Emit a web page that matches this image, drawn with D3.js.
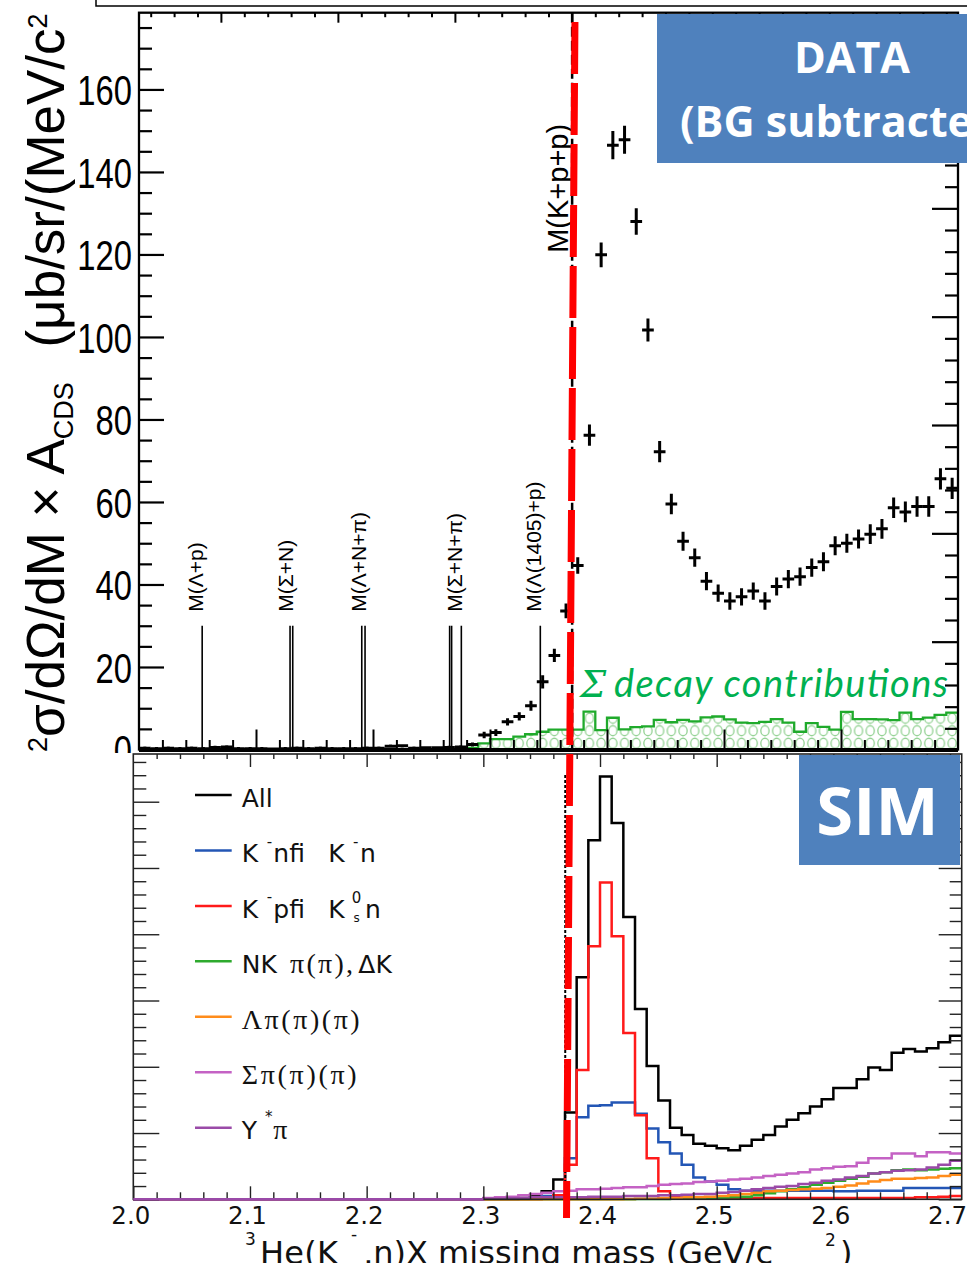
<!DOCTYPE html>
<html><head><meta charset="utf-8">
<script src="https://cdn.jsdelivr.net/npm/d3@7"></script>
<style>body{margin:0;background:#fff}svg{display:block}</style>
</head><body>
<svg id="c" width="967" height="1263"></svg>
<script>
// ===================== DATA =====================
// Top panel: measured spectrum (BG subtracted), 10 MeV bins
const dataBinWidth = 0.01;
const dataFirstCenter = 2.005;
const dataValues = [0.3,0.2,0.3,0.2,0.3,0.2,0.5,0.6,0.2,0.2,0.2,0.1,0.2,0.3,0.2,0.3,0.2,0.2,0.2,0.3,0.3,0.8,0.9,0.3,0.4,0.4,0.5,0.6,1.2,
  3.5,4.1,6.7,8.0,10.6,16.4,22.8,33.6,44.6,76.2,119.9,146.5,147.8,128.0,101.7,72.2,59.5,50.5,46.5,40.8,37.9,36.0,37.0,38.4,36.0,39.5,41.3,41.9,44.1,45.5,49.4,50.0,51.0,52.2,53.5,58.6,57.6,58.9,58.9,65.6,63.3];
const dataErrors = [0.4,0.4,0.4,0.4,0.4,0.4,0.4,0.4,0.4,0.4,0.4,0.4,0.4,0.4,0.4,0.4,0.4,0.4,0.4,0.4,0.4,0.4,0.4,0.4,0.4,0.4,0.4,0.4,0.5,
  0.8,0.8,0.9,1.0,1.2,1.6,1.6,1.8,2.0,2.6,3.0,3.4,3.4,3.2,2.8,2.6,2.5,2.3,2.2,2.2,2.1,2.1,2.1,2.1,2.1,2.2,2.2,2.2,2.2,2.3,2.3,2.3,2.3,2.4,2.4,2.5,2.5,2.5,2.5,2.6,2.6];
// Sigma decay contributions histogram (low edges from 2.28)
const sigmaFirstEdge = 2.28;
const sigmaValues = [0.4,1.5,2.5,2.5,3.1,3.7,4.3,4.8,4.8,4.8, 9.2,4.7,7.7,4.9,5.4,5.6,7.2,6.6,7.2,6.8,
  7.8,8.0,7.3,6.5,6.4,6.7,7.35,6.5,4.3,6.4,5.5,4.8, 9.1,7.35,7.35,7.3,7.1,8.95,7.35,7.75,8.4,8.95];
// Thresholds (GeV/c^2)
const thresholds = [
  {label:"M(Λ+p)", masses:[2.054]},
  {label:"M(Σ+N)", masses:[2.1291,2.1314]},
  {label:"M(Λ+N+π)", masses:[2.1904,2.1932]},
  {label:"M(Σ+N+π)", masses:[2.2655,2.2672,2.2755]},
  {label:"M(Λ(1405)+p)", masses:[2.343]}
];
const kppThreshold = 2.3702;
const thresholdLineHeight = 30;
const yTickLabels = [0,20,40,60,80,100,120,140,160];

// Bottom panel: simulation histograms, low edges from 2.30, 10 MeV bins
const simFirstEdge = 2.30;
const simAll   = [0.01,0.01,0.02,0.02,0.05,0.12,0.30,1.31,3.35,5.42,6.38,5.68,4.26,2.87,2.01,1.49,1.08,0.97,0.84,0.81,0.77,0.74,0.81,0.90,0.97,1.10,1.20,1.30,1.40,1.51,1.68,1.68,1.81,1.99,1.95,2.21,2.27,2.23,2.28,2.37,2.47];
const simKn    = [0,0,0,0.01,0.03,0.05,0.06,0.62,1.24,1.41,1.42,1.46,1.46,1.29,1.07,0.86,0.69,0.52,0.33,0.27,0.22,0.15,0.13,0.13,0.13,0.13,0.13,0.13,0.13,0.13,0.12,0.12,0.13,0.13,0.13,0.13,0.17,0.17,0.17,0.17,0.17];
const simKp    = [0,0,0,0,0,0.02,0.06,0.52,1.95,3.82,4.78,3.97,2.51,1.27,0.62,0.12,0.05,0.03,0.02,0.02,0.02,0.02,0.02,0.02,0.02,0.02,0.02,0.02,0.02,0.02,0.02,0.02,0.02,0.02,0.02,0.02,0.02,0.03,0.03,0.04,0.05];
const simNK    = [0,0,0,0,0,0,0,0,0,0,0,0,0,0.005,0.005,0.005,0.01,0.01,0.01,0.015,0.02,0.03,0.04,0.06,0.09,0.12,0.15,0.18,0.22,0.25,0.28,0.31,0.34,0.39,0.41,0.44,0.45,0.44,0.45,0.46,0.47];
const simLpi   = [0,0,0,0,0,0,0,0,0,0,0,0,0.005,0.01,0.01,0.02,0.02,0.03,0.03,0.04,0.05,0.06,0.08,0.10,0.12,0.13,0.14,0.15,0.16,0.17,0.19,0.21,0.24,0.27,0.29,0.31,0.31,0.32,0.33,0.35,0.37];
const simSpi   = [0.02,0.03,0.04,0.06,0.08,0.10,0.12,0.13,0.15,0.15,0.16,0.17,0.18,0.18,0.20,0.22,0.23,0.24,0.26,0.27,0.28,0.30,0.31,0.33,0.35,0.37,0.39,0.41,0.45,0.47,0.49,0.50,0.55,0.62,0.62,0.69,0.69,0.65,0.71,0.71,0.69];
const simYpi   = [0.01,0.01,0.02,0.02,0.03,0.03,0.03,0.03,0.03,0.04,0.04,0.04,0.05,0.05,0.05,0.06,0.06,0.07,0.08,0.08,0.10,0.11,0.13,0.15,0.17,0.19,0.20,0.23,0.25,0.28,0.30,0.33,0.35,0.39,0.41,0.43,0.44,0.45,0.48,0.52,0.58];
const simColors = ["#000000","#2356b5","#ff1a1a","#2eaa2e","#ff8c1a","#c462c4","#9a4aa8"];
const xTickLabels = [2.0,2.1,2.2,2.3,2.4,2.5,2.6,2.7];

// ===================== DRAW =====================
const FH = "'Liberation Sans', Arial, Helvetica, sans-serif";
const FB = "'DejaVu Sans', Verdana, sans-serif";
const FS = "'Liberation Serif', 'Times New Roman', serif";
const svg = d3.select("#c");
svg.append("rect").attr("width",967).attr("height",1263).attr("fill","#fff");

const xT = d3.scaleLinear().domain([2.0,2.7]).range([139,958]);
const yT = d3.scaleLinear().domain([0,178.6]).range([749.5,12.7]);
const yTR = d3.scaleLinear().domain([0,6.806]).range([750,12.7]);
const xB = d3.scaleLinear().domain([2.0,2.71]).range([133.3,961.7]);
const yB = d3.scaleLinear().domain([0,6.72]).range([1199.3,754]);

const near = (v,s)=>Math.abs(v/s-Math.round(v/s))<1e-6;

// pattern
const defs = svg.append("defs");
const pat = defs.append("pattern").attr("id","circ").attr("patternUnits","userSpaceOnUse")
  .attr("width",11.7).attr("height",12.5).attr("x",139).attr("y",749.5);
pat.append("ellipse").attr("cx",5.85).attr("cy",6.25).attr("rx",4.1).attr("ry",5.0)
  .attr("fill","none").attr("stroke","#8fd08f").attr("stroke-width",1.3);

// outer box fragment at top
svg.append("path").attr("d","M96,0V6H967").attr("fill","none").attr("stroke","#000").attr("stroke-width",1.5);

// ---- Top panel ----
const topG = svg.append("g");
const sigPts = [[sigmaFirstEdge,0]];
sigmaValues.forEach((v,i)=>sigPts.push([sigmaFirstEdge+i*0.01,v]));
sigPts.push([sigmaFirstEdge+sigmaValues.length*0.01, sigmaValues[sigmaValues.length-1]]);
topG.append("path").datum(sigPts)
  .attr("d", d3.area().curve(d3.curveStepAfter).x(d=>xT(d[0])).y0(yT(0)).y1(d=>yT(d[1])))
  .attr("fill","url(#circ)");
topG.append("path").datum(sigPts)
  .attr("d", d3.line().curve(d3.curveStepAfter).x(d=>xT(d[0])).y(d=>yT(d[1])))
  .attr("fill","none").attr("stroke","#1faa2b").attr("stroke-width",2.3);

// threshold lines
thresholds.forEach(t=>{
  t.masses.forEach(m=>{
    topG.append("line").attr("x1",xT(m)).attr("x2",xT(m)).attr("y1",yT(0)).attr("y2",yT(thresholdLineHeight))
      .attr("stroke","#000").attr("stroke-width",1.6);
  });
  const last = t.masses[t.masses.length-1];
  topG.append("text").attr("transform",`translate(${xT(last)+0.5},${yT(33.4)}) rotate(-90)`)
    .attr("font-family",FH).attr("font-size",21).attr("fill","#000").text(t.label);
});
// K+p+p threshold
topG.append("line").attr("x1",xT(kppThreshold)).attr("x2",xT(kppThreshold)).attr("y1",yT(178.6)).attr("y2",yT(0))
  .attr("stroke","#000").attr("stroke-width",2.5).attr("stroke-dasharray","10,4");
topG.append("text").attr("transform",`translate(${xT(kppThreshold)-4},${yT(120.4)}) rotate(-90)`)
  .attr("font-family",FH).attr("font-size",29).attr("fill","#000").text("M(K+p+p)");

// data crosses
const hw = dataBinWidth/2;
topG.append("g").selectAll("path").data(dataValues).join("path")
  .attr("d",(v,i)=>{
    const c = dataFirstCenter + i*dataBinWidth, e = dataErrors[i];
    return `M${xT(c-hw)},${yT(v)}H${xT(c+hw)}M${xT(c)},${yT(Math.max(0,v-e))}V${yT(v+e)}`;
  })
  .attr("fill","none").attr("stroke","#000").attr("stroke-width",3);

// axes top panel
function styleTicks(g, w, col){ g.select(".domain").remove(); g.selectAll("line").attr("stroke",col||"#000").attr("stroke-width",w); }
const yMinor = d3.range(5,178,5).filter(v=>v%20!==0);
let g = topG.append("g").attr("transform","translate(139,0)")
  .call(d3.axisLeft(yT).tickValues(yTickLabels).tickSizeInner(-25).tickSizeOuter(0).tickPadding(7).tickFormat(d3.format("d")));
styleTicks(g,2.2);
g.selectAll("text").attr("font-family",FH).attr("font-size",42).attr("fill","#000")
  .attr("x",0).attr("dy","0.36em").attr("transform","translate(-7,0) scale(0.78,1)");
g = topG.append("g").attr("transform","translate(139,0)")
  .call(d3.axisLeft(yT).tickValues(yMinor).tickSizeInner(-13).tickSizeOuter(0).tickFormat(""));
styleTicks(g,2.2);
// right axis
g = topG.append("g").attr("transform","translate(958,0)")
  .call(d3.axisRight(yTR).tickValues([0,1,2,3,4,5,6]).tickSizeInner(-26).tickSizeOuter(0).tickFormat(""));
styleTicks(g,2.2);
g = topG.append("g").attr("transform","translate(958,0)")
  .call(d3.axisRight(yTR).tickValues(d3.range(0.2,6.8,0.2).filter(v=>!near(v,1))).tickSizeInner(-13).tickSizeOuter(0).tickFormat(""));
styleTicks(g,2.2);
// bottom ticks (upwards)
const xMaj = [2.1,2.2,2.3,2.4,2.5,2.6];
const xMinT = d3.range(2.02,2.70,0.02).filter(v=>!near(v,0.1));
g = topG.append("g").attr("transform",`translate(0,${yT(0)})`)
  .call(d3.axisBottom(xT).tickValues(xMaj).tickSizeInner(-20).tickSizeOuter(0).tickFormat(""));
styleTicks(g,2);
g = topG.append("g").attr("transform",`translate(0,${yT(0)})`)
  .call(d3.axisBottom(xT).tickValues(xMinT).tickSizeInner(-9.5).tickSizeOuter(0).tickFormat(""));
styleTicks(g,2);
// top ticks (downwards)
const topMaj = [2.07,2.17,2.27,2.37,2.47,2.57,2.67];
const topMin = d3.range(2.01,2.70,0.02).filter(v=>!topMaj.some(m=>Math.abs(m-v)<1e-6));
g = topG.append("g").attr("transform",`translate(0,${yT(178.6)})`)
  .call(d3.axisTop(xT).tickValues(topMaj).tickSizeInner(-10).tickSizeOuter(0).tickFormat(""));
styleTicks(g,2);
g = topG.append("g").attr("transform",`translate(0,${yT(178.6)})`)
  .call(d3.axisTop(xT).tickValues(topMin).tickSizeInner(-4.5).tickSizeOuter(0).tickFormat(""));
styleTicks(g,2);
// frame
topG.append("rect").attr("x",xT(2.0)).attr("y",yT(178.6)).attr("width",xT(2.7)-xT(2.0)).attr("height",yT(0)-yT(178.6))
  .attr("fill","none").attr("stroke","#000").attr("stroke-width",2.3);
topG.append("line").attr("x1",xT(2.0)).attr("x2",xT(2.7)).attr("y1",yT(0)+0.5).attr("y2",yT(0)+0.5)
  .attr("stroke","#000").attr("stroke-width",4);

// DATA box
topG.append("rect").attr("x",657).attr("y",14).attr("width",330).attr("height",149).attr("fill","#4f81bd");
topG.append("text").attr("x",852).attr("y",73).attr("text-anchor","middle").attr("font-family","'Open Sans', sans-serif")
  .attr("font-weight","bold").attr("font-size",43).attr("fill","#fff").text("DATA");
topG.append("text").attr("x",680).attr("y",137).attr("font-family","'Open Sans', sans-serif")
  .attr("font-weight","bold").attr("font-size",43).attr("fill","#fff").text("(BG subtracted)");

// Sigma decay text
topG.append("text").attr("x",580).attr("y",697).attr("font-family","'DejaVu Serif', serif").attr("font-style","italic")
  .attr("font-size",37).attr("fill","#00b050").text("Σ");
topG.append("text").attr("x",614).attr("y",697).attr("font-family","Lato, 'Open Sans', sans-serif").attr("font-style","italic")
  .attr("font-size",38).attr("fill","#00b050").attr("textLength",334).text("decay contributions");

// Y axis title (end of label cut off at the top edge in the source)
const yl = topG.append("text").attr("transform","translate(64,781.5) rotate(-90)").attr("font-family",FH).attr("font-size",53).attr("fill","#000");
yl.append("tspan").text("d");
yl.append("tspan").attr("font-size",27).attr("dy",-17).text("2");
yl.append("tspan").attr("dy",17).text("σ/dΩ/dM × A");
yl.append("tspan").attr("font-size",27).attr("dy",9).text("CDS");
yl.append("tspan").attr("dy",-9).attr("dx",20).text(" (μb/sr/(MeV/c");
yl.append("tspan").attr("font-size",27).attr("dy",-17).text("2");

// ---- Bottom panel ----
svg.append("rect").attr("x",0).attr("y",753).attr("width",967).attr("height",510).attr("fill","#fff");
const bot = svg.append("g");
const sims = [simAll, simKn, simKp, simNK, simLpi, simSpi, simYpi];
const hline = d3.line().curve(d3.curveStepAfter).x(d=>xB(d[0])).y(d=>yB(d[1]));
sims.forEach((vals,k)=>{
  const pts=[[2.0,0],[simFirstEdge,0]];
  vals.forEach((v,i)=>pts.push([simFirstEdge+i*0.01,v]));
  pts.push([simFirstEdge+vals.length*0.01, vals[vals.length-1]]);
  bot.append("path").datum(pts).attr("d",hline).attr("fill","none").attr("stroke",simColors[k]).attr("stroke-width",2.5);
});
// threshold dotted
bot.append("line").attr("x1",xB(kppThreshold)).attr("x2",xB(kppThreshold)).attr("y1",775).attr("y2",1207)
  .attr("stroke","#000").attr("stroke-width",2).attr("stroke-dasharray","3,2");

// axes bottom panel
const yMajB=[0,1,2,3,4,5,6], yMinB=d3.range(0.2,6.72,0.2).filter(v=>!near(v,1));
const xMinB = d3.range(2.02,2.71,0.02).filter(v=>!near(v,0.1));
g = bot.append("g").attr("transform","translate(133.3,0)").call(d3.axisLeft(yB).tickValues(yMajB).tickSizeInner(-26).tickSizeOuter(0).tickFormat(""));
styleTicks(g,1.4,"#222");
g = bot.append("g").attr("transform","translate(133.3,0)").call(d3.axisLeft(yB).tickValues(yMinB).tickSizeInner(-13).tickSizeOuter(0).tickFormat(""));
styleTicks(g,1.4,"#222");
g = bot.append("g").attr("transform","translate(961.7,0)").call(d3.axisRight(yB).tickValues(yMajB).tickSizeInner(-23).tickSizeOuter(0).tickFormat(""));
styleTicks(g,1.4,"#222");
g = bot.append("g").attr("transform","translate(961.7,0)").call(d3.axisRight(yB).tickValues(yMinB).tickSizeInner(-12).tickSizeOuter(0).tickFormat(""));
styleTicks(g,1.4,"#222");
g = bot.append("g").attr("transform",`translate(0,${yB(6.72)})`).call(d3.axisTop(xB).tickValues(xTickLabels.slice(1)).tickSizeInner(-13).tickSizeOuter(0).tickFormat(""));
styleTicks(g,1.4,"#222");
g = bot.append("g").attr("transform",`translate(0,${yB(6.72)})`).call(d3.axisTop(xB).tickValues(xMinB).tickSizeInner(-5).tickSizeOuter(0).tickFormat(""));
styleTicks(g,1.4,"#222");
g = bot.append("g").attr("transform",`translate(0,${yB(0)})`).call(d3.axisBottom(xB).tickValues(xTickLabels).tickSizeInner(-13).tickSizeOuter(0).tickPadding(7).tickFormat(d3.format(".1f")));
styleTicks(g,1.4,"#222");
g.selectAll("text").attr("font-family",FB).attr("font-size",24.5).attr("fill","#111").attr("dx",-3);
g = bot.append("g").attr("transform",`translate(0,${yB(0)})`).call(d3.axisBottom(xB).tickValues(xMinB).tickSizeInner(-7).tickSizeOuter(0).tickFormat(""));
styleTicks(g,1.4,"#222");
bot.append("rect").attr("x",xB(2.0)).attr("y",yB(6.72)).attr("width",xB(2.71)-xB(2.0)).attr("height",yB(0)-yB(6.72))
  .attr("fill","none").attr("stroke","#222").attr("stroke-width",1.6);
bot.append("line").attr("x1",xB(2.0)).attr("x2",xB(simFirstEdge)).attr("y1",yB(0)).attr("y2",yB(0)).attr("stroke",simColors[6]).attr("stroke-width",2.5);

// legend
const legendRows = [
  [{t:"All",x:0}],
  [{t:"K",x:0},{t:"-",x:25,sup:-15.5},{t:"nfi",x:31.6},{t:"K",x:86.6},{t:"-",x:111.3,sup:-15.5},{t:"n",x:118.3}],
  [{t:"K",x:0},{t:"-",x:25,sup:-15.5},{t:"pfi",x:31.6},{t:"K",x:86.6},{t:"0",x:110,sup:-14.4},{t:"s",x:111.8,sup:4.6,small:12},{t:"n",x:123.3}],
  [{t:"NK",x:0},{t:"π(π),",x:48.3,serif:true,len:63},{t:"ΔK",x:116.6}],
  [{t:"Λπ(π)(π)",x:0,serif:true,len:118}],
  [{t:"Σπ(π)(π)",x:0,serif:true,len:115}],
  [{t:"Y",x:0},{t:"*",x:23.3,sup:-17},{t:"π",x:31.6,serif:true}]
];
const legX0 = 195, legX1 = 231.7, legT = 241.7, legY0 = 795, legDY = 55.45;
legendRows.forEach((row,i)=>{
  const y = legY0 + i*legDY;
  bot.append("line").attr("x1",legX0).attr("x2",legX1).attr("y1",y).attr("y2",y).attr("stroke",simColors[i]).attr("stroke-width",2.5);
  row.forEach(p=>{
    const t = bot.append("text").attr("x",legT+p.x).attr("y",y+11.7+(p.sup||0))
      .attr("font-family",p.serif?FS:FB).attr("font-size",p.sup!==undefined?(p.small||15):(p.serif?28:25)).attr("fill","#111").text(p.t);
    if(p.len) t.attr("textLength",p.len);
  });
});

// SIM box
bot.append("rect").attr("x",799).attr("y",755).attr("width",161).attr("height",110).attr("fill","#4f81bd");
bot.append("text").attr("x",877.5).attr("y",835).attr("text-anchor","middle").attr("font-family","'Open Sans', sans-serif")
  .attr("font-weight","bold").attr("font-size",67).attr("fill","#fff").text("SIM");

// x title
const tt = [
  {t:"3",x:245,y:1245,s:17},
  {t:"He(K",x:260,y:1264,s:32,len:78},
  {t:"-",x:351,y:1240,s:17},
  {t:",n)X missing mass (GeV/c",x:363,y:1264,s:32,len:410},
  {t:"2",x:825,y:1246,s:17},
  {t:")",x:840,y:1264,s:32}
];
tt.forEach(p=>{
  const t = bot.append("text").attr("x",p.x).attr("y",p.y).attr("font-family",FB).attr("font-size",p.s).attr("fill","#111").text(p.t);
  if(p.len) t.attr("textLength",p.len);
});

// red dashed annotation across both panels
svg.append("line").attr("x1",xT(2.3726)).attr("y1",22).attr("x2",xB(2.3713)).attr("y2",1218)
  .attr("stroke","#ff0000").attr("stroke-width",7).attr("stroke-dasharray","52,9");
</script>
</body></html>
